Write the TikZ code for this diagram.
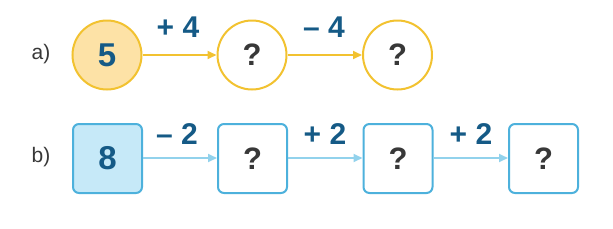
\documentclass[tikz,border=0pt]{standalone}
\usepackage{fontspec}
\setmainfont{Liberation Sans}
\usetikzlibrary{arrows.meta}
\definecolor{ystroke}{HTML}{F2C230}
\definecolor{yfill}{HTML}{FDE2A6}
\definecolor{bstroke}{HTML}{4DB1DC}
\definecolor{bfill}{HTML}{C6E9F8}
\definecolor{barrow}{HTML}{92D2EC}
\definecolor{numblue}{HTML}{155A86}
\definecolor{qgray}{HTML}{383838}
\tikzset{
  circ/.style={circle, draw=ystroke, line width=2pt, minimum size=69pt, inner sep=0pt, fill=white},
  sq/.style={rectangle, rounded corners=6pt, draw=bstroke, line width=2pt, minimum size=69pt, inner sep=0pt, fill=white},
  numtxt/.style={font=\fontsize{33}{33}\selectfont\bfseries, text=numblue},
  qtxt/.style={font=\fontsize{31}{31}\selectfont\bfseries, text=qgray},
  optxt/.style={font=\fontsize{30}{30}\selectfont\bfseries, text=numblue},
  rowlbl/.style={font=\fontsize{21}{21}\selectfont, text=qgray},
  yarr/.style={draw=ystroke, line width=1.8pt, -{Triangle[length=9pt,width=8pt]}},
  barr/.style={draw=barrow, line width=1.8pt, -{Triangle[length=9pt,width=8pt]}}
}
\begin{document}
\begin{tikzpicture}[x=1pt,y=-1pt]
\useasboundingbox (0,0) rectangle (613,228);
% row a
\node[rowlbl] (la) at (41,54) {a)};
\node[circ, fill=yfill, numtxt] (a1) at (107,55) {5};
\node[circ, qtxt] (a2) at (252,55) {?};
\node[circ, qtxt] (a3) at (397.5,55) {?};
\draw[yarr] (a1) -- (a2);
\draw[yarr] (a2) -- (a3);
\node[optxt] (oa1) at (178,27) {+ 4};
\node[optxt] (oa2) at (324,27) {– 4};
% row b
\node[rowlbl] (lb) at (41,157) {b)};
\node[sq, fill=bfill, numtxt] (b1) at (107.5,158.5) {8};
\node[sq, qtxt] (b2) at (252.5,158.5) {?};
\node[sq, qtxt] (b3) at (398,158.5) {?};
\node[sq, qtxt] (b4) at (543.5,158.5) {?};
\draw[barr] (b1.east |- 0,158) -- (b2.west |- 0,158);
\draw[barr] (b2.east |- 0,158) -- (b3.west |- 0,158);
\draw[barr] (b3.east |- 0,158) -- (b4.west |- 0,158);
\node[optxt] (ob1) at (177,134) {– 2};
\node[optxt] (ob2) at (325,134) {+ 2};
\node[optxt] (ob3) at (471,134) {+ 2};
\end{tikzpicture}
\end{document}
